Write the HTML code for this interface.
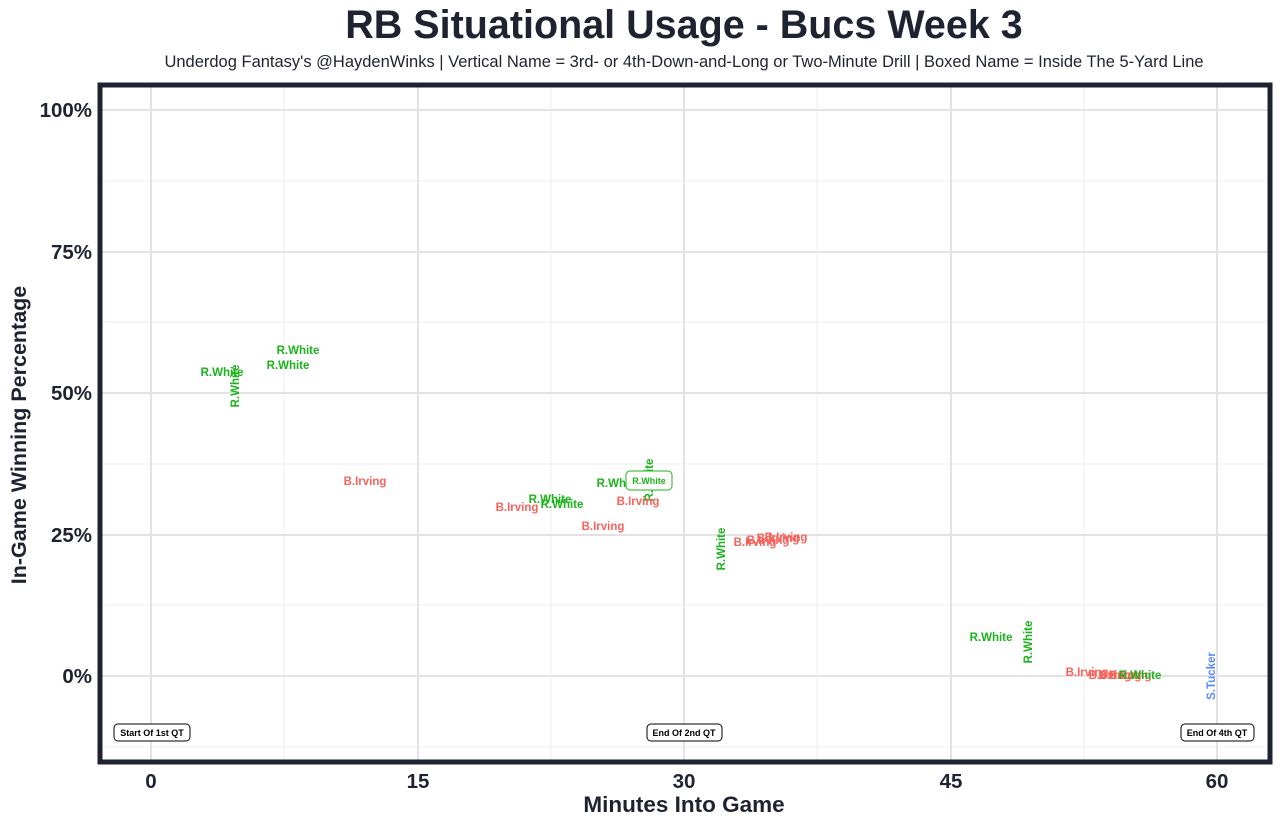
<!DOCTYPE html>
<html><head><meta charset="utf-8"><style>
body{margin:0;background:#fff;}
svg{display:block;font-family:"Liberation Sans",Arial,sans-serif;}
.g{fill:#1db31d;font-weight:bold;font-size:11.5px;}
.r{fill:#f8635c;font-weight:bold;font-size:11.5px;}
.b{fill:#5b8cff;font-weight:bold;font-size:11.5px;}
.ax{fill:#1f2230;font-weight:bold;font-size:20.5px;}
</style></head><body>
<svg width="1280" height="826" viewBox="0 0 1280 826">
<rect width="1280" height="826" fill="#fff"/>
<text x="684" y="38" text-anchor="middle" font-size="39.5" font-weight="bold" fill="#1f2230">RB Situational Usage - Bucs Week 3</text>
<text x="684" y="67" text-anchor="middle" font-size="16.5" fill="#1f2230">Underdog Fantasy's @HaydenWinks | Vertical Name = 3rd- or 4th-Down-and-Long or Two-Minute Drill | Boxed Name = Inside The 5-Yard Line</text>
<g stroke="#ececec" stroke-width="1">
<line x1="100" x2="1270" y1="181" y2="181"/><line x1="100" x2="1270" y1="322" y2="322"/><line x1="100" x2="1270" y1="464" y2="464"/><line x1="100" x2="1270" y1="605" y2="605"/><line x1="100" x2="1270" y1="747" y2="747"/>
<line x1="284" x2="284" y1="85" y2="762"/><line x1="551" x2="551" y1="85" y2="762"/><line x1="817" x2="817" y1="85" y2="762"/><line x1="1084" x2="1084" y1="85" y2="762"/>
</g>
<g stroke="#e3e3e3" stroke-width="2">
<line x1="100" x2="1270" y1="110" y2="110"/><line x1="100" x2="1270" y1="252" y2="252"/><line x1="100" x2="1270" y1="393" y2="393"/><line x1="100" x2="1270" y1="535" y2="535"/><line x1="100" x2="1270" y1="676" y2="676"/>
<line x1="151" x2="151" y1="85" y2="762"/><line x1="418" x2="418" y1="85" y2="762"/><line x1="684" x2="684" y1="85" y2="762"/><line x1="951" x2="951" y1="85" y2="762"/><line x1="1217" x2="1217" y1="85" y2="762"/>
</g>
<rect x="100" y="85" width="1170" height="677" fill="none" stroke="#1f2230" stroke-width="5"/>
<g class="ax" text-anchor="end">
<text x="92" y="117">100%</text><text x="92" y="259">75%</text><text x="92" y="400">50%</text><text x="92" y="542">25%</text><text x="92" y="683">0%</text>
</g>
<g class="ax" text-anchor="middle">
<text x="151" y="788">0</text><text x="418" y="788">15</text><text x="684" y="788">30</text><text x="951" y="788">45</text><text x="1217" y="788">60</text>
</g>
<text x="684" y="812" text-anchor="middle" font-size="22.5" font-weight="bold" fill="#1f2230">Minutes Into Game</text>
<text transform="translate(26,435) rotate(-90)" text-anchor="middle" font-size="21.5" font-weight="bold" fill="#1f2230">In-Game Winning Percentage</text>
<g text-anchor="middle">
<text class="g" x="222" y="376">R.White</text>
<text class="g" transform="translate(239,386) rotate(-90)" text-anchor="middle">R.White</text>
<text class="g" x="298" y="354">R.White</text>
<text class="g" x="288" y="369">R.White</text>
<text class="r" x="365" y="485">B.Irving</text>
<text class="r" x="517" y="511">B.Irving</text>
<text class="g" x="550" y="503">R.White</text>
<text class="g" x="562" y="508">R.White</text>
<text class="r" x="603" y="530">B.Irving</text>
<text class="g" x="618" y="487">R.White</text>
<text class="g" transform="translate(653,480) rotate(-90)" text-anchor="middle">R.White</text>
<text class="r" x="638" y="505">B.Irving</text>
<rect x="626" y="471" width="46" height="19" rx="4" fill="#fff" stroke="#1db31d"/>
<text class="g" x="649" y="484" style="font-size:9px">R.White</text>
<text class="g" transform="translate(725,549) rotate(-90)" text-anchor="middle">R.White</text>
<text class="r" x="755" y="546">B.Irving</text>
<text class="r" x="768" y="544">B.Irving</text>
<text class="r" x="778" y="542">B.Irving</text>
<text class="r" x="786" y="541">B.Irving</text>
<text class="g" x="991" y="641">R.White</text>
<text class="g" transform="translate(1032,642) rotate(-90)" text-anchor="middle">R.White</text>
<text class="r" x="1087" y="676">B.Irving</text>
<text class="r" x="1110" y="679">B.Irving</text>
<text class="r" x="1120" y="679">B.Irving</text>
<text class="r" x="1130" y="679">B.Irving</text>
<text class="g" x="1140" y="679">R.White</text>
<text class="b" transform="translate(1215,676) rotate(-90)" text-anchor="middle">S.Tucker</text>
</g>
<g font-size="9" font-weight="bold" fill="#000" text-anchor="middle">
<rect x="114" y="724" width="76" height="17" rx="4" fill="#fff" stroke="#000"/><text x="152" y="736">Start Of 1st QT</text>
<rect x="647" y="724" width="75" height="17" rx="4" fill="#fff" stroke="#000"/><text x="684" y="736">End Of 2nd QT</text>
<rect x="1181" y="724" width="73" height="17" rx="4" fill="#fff" stroke="#000"/><text x="1217" y="736">End Of 4th QT</text>
</g>
</svg>
</body></html>
